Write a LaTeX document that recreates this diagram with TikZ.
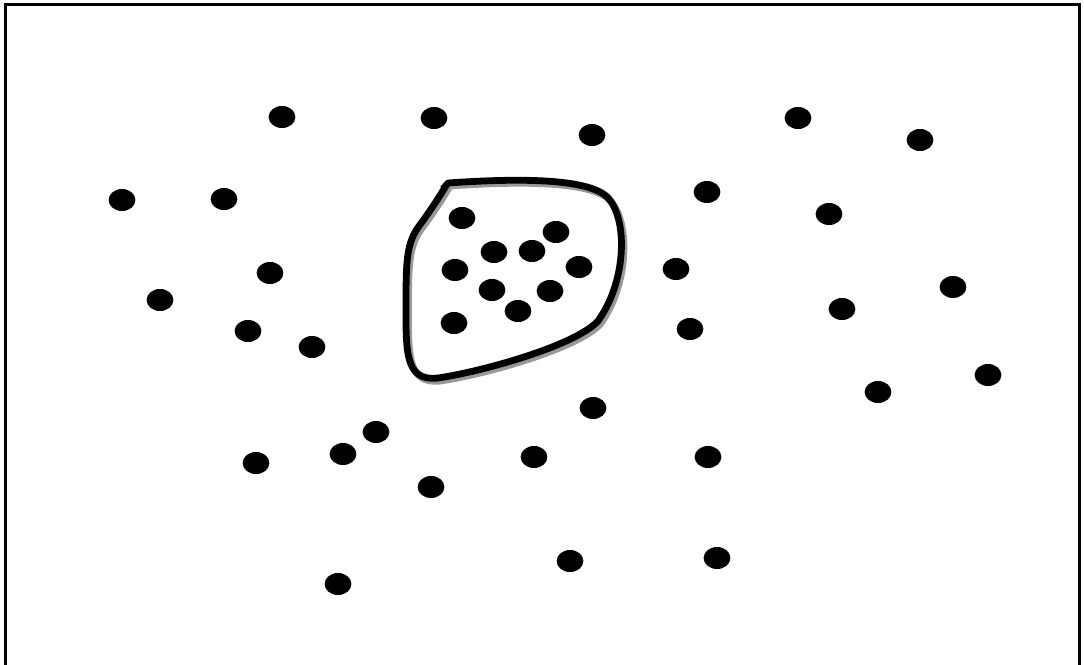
\documentclass[tikz,border=0pt]{standalone}
\usepackage{tikz}
\usetikzlibrary{shapes.geometric}

\begin{document}
\begin{tikzpicture}[
  x=0.25mm, y=-0.25mm,
  dot/.style={ellipse, fill=black, inner sep=0pt,
              minimum width=6.7mm, minimum height=5.5mm},
  blob/.style={draw=black, line width=1.7mm, line join=round},
  blobshade/.style={draw=black!40, line width=1.7mm, line join=round},
  frame/.style={draw=black, line width=0.65mm},
]
  \useasboundingbox (0,0) rectangle (1084,664);
  \draw[frame] (5.5,680) -- (5.5,4.5) -- (1079.5,4.5) -- (1079.5,680);
  % outer points
  \node[dot] (out1) at (282,117) {};
  \node[dot] (out2) at (434,118) {};
  \node[dot] (out3) at (592,135) {};
  \node[dot] (out4) at (798,118) {};
  \node[dot] (out5) at (920,140) {};
  \node[dot] (out6) at (122,200) {};
  \node[dot] (out7) at (224,199) {};
  \node[dot] (out8) at (707,192) {};
  \node[dot] (out9) at (829,214) {};
  \node[dot] (out10) at (270,273) {};
  \node[dot] (out11) at (160,300) {};
  \node[dot] (out12) at (248,331) {};
  \node[dot] (out13) at (312,347) {};
  \node[dot] (out14) at (676,269) {};
  \node[dot] (out15) at (690,329) {};
  \node[dot] (out16) at (953,287) {};
  \node[dot] (out17) at (842,309) {};
  \node[dot] (out18) at (988,375) {};
  \node[dot] (out19) at (878,392) {};
  \node[dot] (out20) at (593,408) {};
  \node[dot] (out21) at (376,432) {};
  \node[dot] (out22) at (343,454) {};
  \node[dot] (out23) at (256,463) {};
  \node[dot] (out24) at (534,457) {};
  \node[dot] (out25) at (708,457) {};
  \node[dot] (out26) at (431,487) {};
  \node[dot] (out27) at (338,584) {};
  \node[dot] (out28) at (570,561) {};
  \node[dot] (out29) at (717,558) {};
  % cluster outline
  \draw[blobshade, shift={(2.5,3)}] (443,189) -- (448,183)
    .. controls (520,178) and (592,178) .. (609,199)
    .. controls (628,222) and (626,282) .. (598,321)
    .. controls (575,346) and (480,372) .. (438,378)
    .. controls (404,382) and (406,350) .. (406,300)
    .. controls (406,252) and (408,240) .. (422,222)
    .. controls (432,208) and (440,196) .. (447,184);
  \draw[blob] (443,189) -- (448,183)
    .. controls (520,178) and (592,178) .. (609,199)
    .. controls (628,222) and (626,282) .. (598,321)
    .. controls (575,346) and (480,372) .. (438,378)
    .. controls (404,382) and (406,350) .. (406,300)
    .. controls (406,252) and (408,240) .. (422,222)
    .. controls (432,208) and (440,196) .. (447,184);
  % inner points
  \node[dot] (in1) at (462,218) {};
  \node[dot] (in2) at (556,232) {};
  \node[dot] (in3) at (494,252) {};
  \node[dot] (in4) at (532,251) {};
  \node[dot] (in5) at (455,270) {};
  \node[dot] (in6) at (579,267) {};
  \node[dot] (in7) at (492,290) {};
  \node[dot] (in8) at (550,291) {};
  \node[dot] (in9) at (518,311) {};
  \node[dot] (in10) at (454,323) {};
\end{tikzpicture}
\end{document}
